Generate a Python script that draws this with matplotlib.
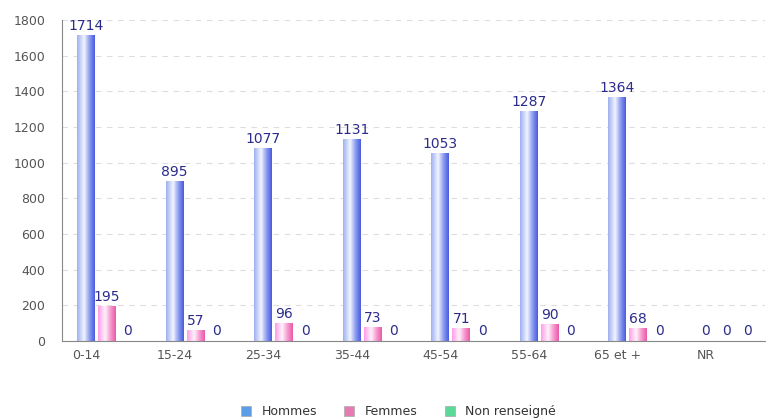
import matplotlib.pyplot as plt
import numpy as np
from matplotlib.colors import LinearSegmentedColormap
from matplotlib.patches import Patch

categories = ['0-14', '15-24', '25-34', '35-44', '45-54', '55-64', '65 et +', 'NR']
hommes = [1714, 895, 1077, 1131, 1053, 1287, 1364, 0]
femmes = [195, 57, 96, 73, 71, 90, 68, 0]
non_renseigne = [0, 0, 0, 0, 0, 0, 0, 0]

series = [
    ('Hommes', hommes, '#5b9ee6', ['#9fb0f0', '#f2f5ff', '#8c9cf0', '#4a5ce0']),
    ('Femmes', femmes, '#e67ab3', ['#ff9ee6', '#fff2fb', '#f79ad0', '#ea5aa8']),
    ('Non renseigné', non_renseigne, '#5cd89a', ['#9ff0c8', '#f2fff8', '#8ce8b8', '#3cc880']),
]

fig = plt.figure(figsize=(7.66, 4.19), dpi=100)
ax = fig.add_axes([0.081, 0.186, 0.918, 0.766])

x = np.arange(len(categories))
width = 0.2
step = 0.237
label_color = '#2b2b8c'
grad = np.linspace(0, 1, 64).reshape(1, -1)

for i, (name, vals, col, stops) in enumerate(series):
    cmap = LinearSegmentedColormap.from_list(name, list(zip([0, 0.4, 0.7, 1], stops)))
    pos = x + i * step
    bars = ax.bar(pos, vals, width, color='none', edgecolor='none')
    for b, v in zip(bars, vals):
        if v > 0:
            x0 = b.get_x()
            ax.imshow(grad, cmap=cmap, aspect='auto', extent=(x0, x0 + width, 0, v),
                      zorder=2, interpolation='bilinear')
        ax.text(b.get_x() + width / 2, v + 15, str(v), ha='center', va='bottom',
                fontsize=10, color=label_color, zorder=3)

ax.set_xlim(-0.27, 7.67)
ax.set_ylim(0, 1800)
ax.set_yticks(range(0, 1801, 200))
ax.set_xticks(x)
ax.set_xticklabels(categories)
ax.tick_params(length=0, labelsize=9, labelcolor='#555555')
ax.tick_params(axis='y', pad=12)
ax.tick_params(axis='x', pad=6)
ax.yaxis.grid(True, linestyle=(0, (5, 5)), color='#dddddd', linewidth=0.8, zorder=0)
ax.set_axisbelow(True)
for s in ['top', 'right']:
    ax.spines[s].set_visible(False)
ax.spines['left'].set_color('#888888')
ax.spines['bottom'].set_color('#888888')

handles = [Patch(facecolor=c, edgecolor='#aaaaaa', linewidth=0.5) for _, _, c, _ in series]
fig.legend(handles, [s[0] for s in series], loc='lower center', ncol=3, frameon=False,
           fontsize=9, handlelength=0.8, handleheight=0.8, columnspacing=2.2,
           bbox_to_anchor=(0.52, -0.025), labelcolor='#333333')

fig.savefig('out.png', dpi=100)
